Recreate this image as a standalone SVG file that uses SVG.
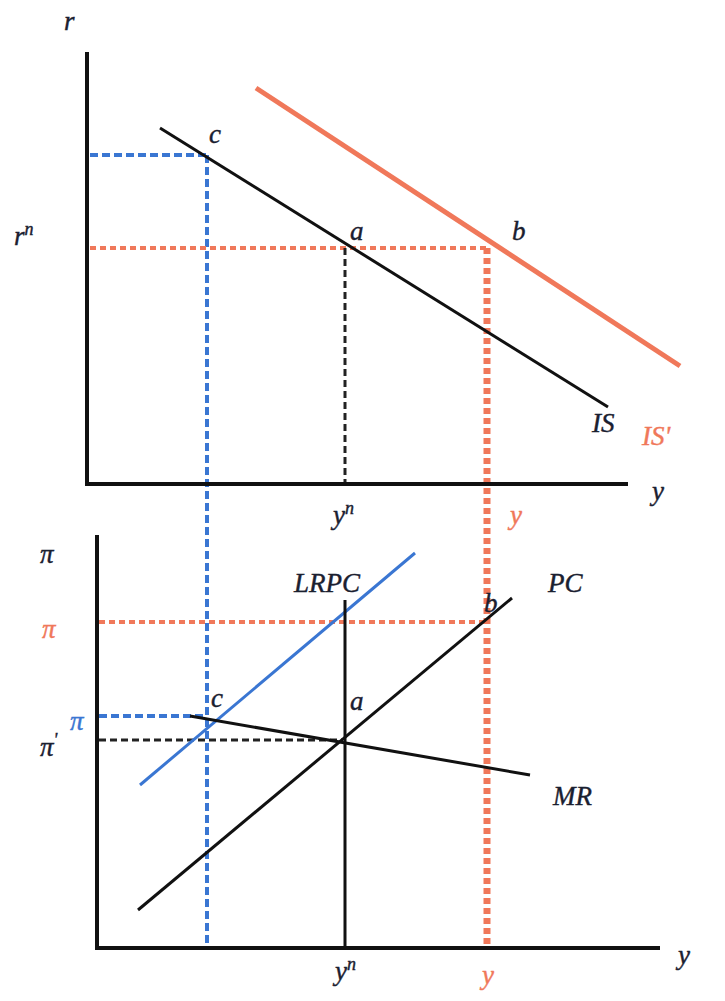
<svg xmlns="http://www.w3.org/2000/svg" width="725" height="1001" viewBox="0 0 725 1001">
<style>
.ax{stroke:#111;stroke-width:4;fill:none}
.ln{stroke:#111;stroke-width:3;fill:none}
.red{stroke:#f0785a;fill:none}
.bl{stroke:#3a76d2;fill:none}
.dk{stroke:#222;stroke-width:3;stroke-dasharray:7 4;fill:none}
.rd{stroke:#f0785a;stroke-width:4;stroke-dasharray:6 4;fill:none}
.rv{stroke:#f0785a;stroke-width:7;stroke-dasharray:6 4;fill:none}
.bd{stroke:#3a76d2;stroke-width:4;stroke-dasharray:8 4;fill:none}
text{font-family:"Liberation Serif","DejaVu Serif",serif;font-style:italic;font-size:27px;fill:#1a2030;stroke:#1a2030;stroke-width:0.4}
.tr{fill:#f0785a;stroke:#f0785a}
.tb{fill:#3a76d2;stroke:#3a76d2}
.sup{font-size:18px}
</style>
<rect width="725" height="1001" fill="#fff"/>
<g id="connectors">
  <line class="bd" x1="90" y1="155" x2="207" y2="155"/>
  <line class="bd" x1="207" y1="155" x2="207" y2="946"/>
  <line class="rd" x1="90" y1="248" x2="487" y2="248"/>
  <line class="dk" x1="345" y1="248" x2="345" y2="482"/>
  <line class="rv" x1="487" y1="248" x2="487" y2="946"/>
  <line class="rd" x1="99" y1="622" x2="487" y2="622"/>
  <line class="bd" x1="99" y1="716" x2="207" y2="716"/>
  <line class="dk" x1="99" y1="740" x2="343" y2="740"/>
  <line class="ln" x1="160" y1="128" x2="608" y2="407"/>
  <line class="red" stroke-width="5" x1="256" y1="88" x2="680" y2="366"/>
  <line class="ln" x1="138" y1="910" x2="512" y2="598"/>
  <line class="bl" stroke-width="3" x1="140" y1="785" x2="415" y2="553"/>
  <line class="ln" stroke-width="2.5" x1="190" y1="716" x2="530" y2="775"/>
  <line class="ln" x1="345" y1="600" x2="345" y2="948"/>
</g>
<g id="axes-top">
  <line class="ax" x1="87" y1="52" x2="87" y2="486"/>
  <line class="ax" x1="85" y1="484" x2="628" y2="484"/>
  <text x="64" y="30">r</text>
  <text x="14" y="245">r<tspan class="sup" dy="-10">n</tspan></text>
  <text x="652" y="500">y</text>
</g>
<g id="axes-bottom">
  <line class="ax" x1="97" y1="535" x2="97" y2="950"/>
  <line class="ax" x1="95" y1="948" x2="660" y2="948"/>
  <text x="40" y="563">π</text>
  <text x="678" y="964">y</text>
</g>
<g id="labels-top">
  <text x="209" y="143">c</text>
  <text x="350" y="240">a</text>
  <text x="512" y="240">b</text>
  <text x="592" y="432">IS</text>
  <text class="tr" x="642" y="445">IS'</text>
  <text x="333" y="524">y<tspan class="sup" dy="-10">n</tspan></text>
  <text class="tr" x="510" y="524">y</text>
</g>
<g id="labels-bottom">
  <text x="294" y="592">LRPC</text>
  <text x="548" y="592">PC</text>
  <text x="484" y="612">b</text>
  <text x="350" y="710">a</text>
  <text x="211" y="707">c</text>
  <text x="553" y="805">MR</text>
  <text class="tr" x="42" y="638">π</text>
  <text class="tb" x="70" y="730">π</text>
  <text x="40" y="756">π<tspan class="sup" dy="-10">'</tspan></text>
  <text x="335" y="980">y<tspan class="sup" dy="-10">n</tspan></text>
  <text class="tr" x="482" y="984">y</text>
</g>
</svg>
